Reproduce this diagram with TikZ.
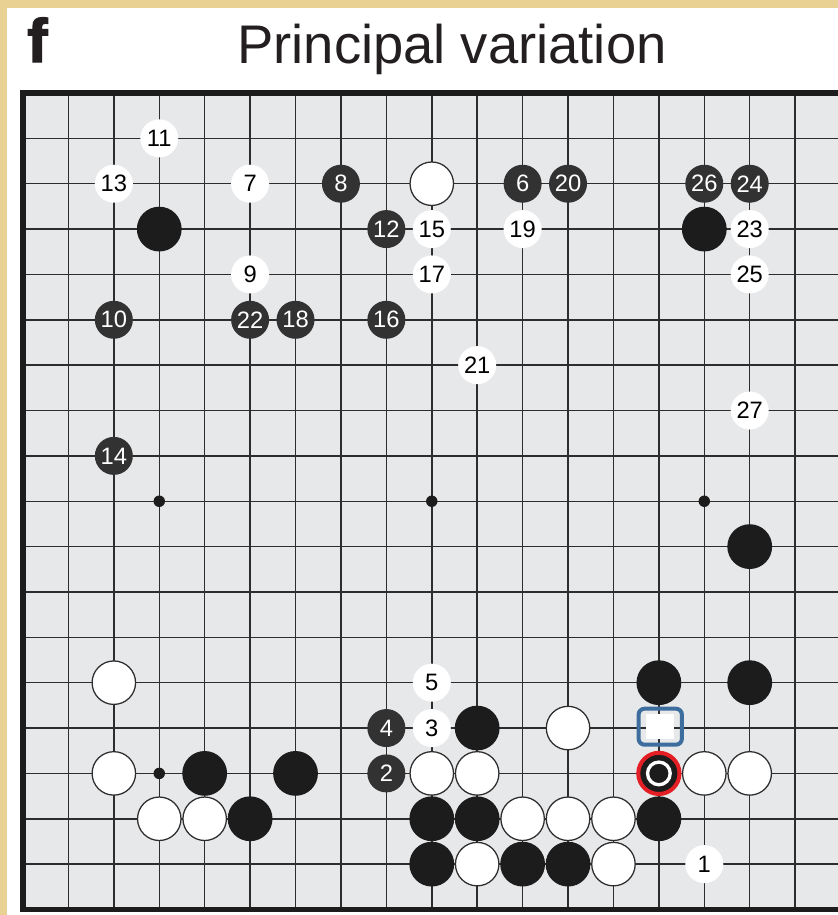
\documentclass[tikz,border=0pt]{standalone}
\usepackage{fontspec}
\setmainfont{Liberation Sans}
\newfontfamily\heavyfont{Liberation Sans Bold}[FakeBold=2.2]
\definecolor{parch}{RGB}{233,209,148}
\definecolor{boardbg}{RGB}{231,232,234}
\definecolor{gridc}{RGB}{45,45,45}
\definecolor{stoneb}{RGB}{28,28,28}
\definecolor{numb}{RGB}{50,50,50}
\definecolor{markblue}{RGB}{61,110,158}
\definecolor{markred}{RGB}{227,30,36}
\definecolor{titlec}{RGB}{35,31,32}
\tikzset{
  bstone/.style={circle, fill=stoneb, inner sep=0pt, minimum size=33.6pt},
  wstone/.style={circle, fill=white, draw=gridc, line width=0.95pt, inner sep=0pt, minimum size=32.6pt},
  bnum/.style={circle, fill=numb, text=white, inner sep=0pt, minimum size=28.5pt, font=\fontsize{17.8}{17.8}\selectfont},
  wnum/.style={circle, fill=white, text=black, inner sep=0pt, minimum size=28.5pt, font=\fontsize{17.8}{17.8}\selectfont},
  starpt/.style={circle, fill=stoneb, inner sep=0pt, minimum size=8.6pt},
  gridline/.style={draw=gridc, line width=1.1pt},
  frameline/.style={draw=stoneb, line width=3.9pt},
  lastmove/.style={circle, fill=stoneb, draw=markred, line width=3pt, inner sep=0pt, minimum size=30.9pt},
  lastring/.style={circle, draw=white, line width=2.5pt, inner sep=0pt, minimum size=17pt},
  bluebox/.style={rectangle, rounded corners=4.5pt, draw=markblue, line width=3pt, inner sep=0pt, minimum width=32.5pt, minimum height=27pt},
  whitesq/.style={rectangle, fill=white, inner sep=0pt, minimum width=21pt, minimum height=19pt}
}
\begin{document}
\begin{tikzpicture}[x=0.75pt,y=-0.75pt]
\useasboundingbox (0,0) rectangle (838,915);
\clip (0,0) rectangle (838,915);
\fill[parch] (0,0) rectangle (838,915);
\fill[white] (7,7.5) rectangle (850,925);
\node[anchor=base west, inner sep=0pt, text=titlec, font=\fontsize{46}{46}\selectfont\heavyfont] (flabel) at (27,62) {f};
\node[anchor=base, inner sep=0pt, text=titlec, font=\fontsize{40.8}{40.8}\selectfont] (title) at (452,63) {Principal variation};
\begin{scope}[shift={(23,93)}, x=34.065pt, y=-34.02pt]
  \fill[boardbg] (0,0) rectangle (18.5,18);
  \foreach \i in {1,...,17} {
    \draw[gridline] (0,\i) -- (18.5,\i);
  }
  \foreach \i in {1,...,18} {
    \draw[gridline] (\i,0) -- (\i,18);
  }
  \draw[frameline] (18.5,0) -- (0,0) -- (0,18) -- (18.5,18);
  % star points
  \node[starpt] (st1) at (3,9) {};
  \node[starpt] (st2) at (9,9) {};
  \node[starpt] (st3) at (15,9) {};
  \node[starpt] (st4) at (3,15) {};
  % black stones
  \node[bstone] (b1) at (3,3) {};
  \node[bstone] (b2) at (15,3) {};
  \node[bstone] (b3) at (16,10) {};
  \node[bstone] (b4) at (14,13) {};
  \node[bstone] (b5) at (16,13) {};
  \node[bstone] (b6) at (10,14) {};
  \node[bstone] (b7) at (4,15) {};
  \node[bstone] (b8) at (6,15) {};
  \node[bstone] (b9) at (5,16) {};
  \node[bstone] (b10) at (9,16) {};
  \node[bstone] (b11) at (10,16) {};
  \node[bstone] (b12) at (14,16) {};
  \node[bstone] (b13) at (9,17) {};
  \node[bstone] (b14) at (11,17) {};
  \node[bstone] (b15) at (12,17) {};
  % white stones
  \node[wstone] (w1) at (9,2) {};
  \node[wstone] (w2) at (2,13) {};
  \node[wstone] (w3) at (12,14) {};
  \node[wstone] (w4) at (2,15) {};
  \node[wstone] (w5) at (9,15) {};
  \node[wstone] (w6) at (10,15) {};
  \node[wstone] (w7) at (15,15) {};
  \node[wstone] (w8) at (16,15) {};
  \node[wstone] (w9) at (3,16) {};
  \node[wstone] (w10) at (4,16) {};
  \node[wstone] (w11) at (11,16) {};
  \node[wstone] (w12) at (12,16) {};
  \node[wstone] (w13) at (13,16) {};
  \node[wstone] (w14) at (10,17) {};
  \node[wstone] (w15) at (13,17) {};
  % last move and marker
  \node[lastmove] (last) at (14,15) {};
  \node[lastring] (lastmark) at (14,15) {};
  \node[bluebox] (sqmark) at (14.03,13.97) {};
  \node[whitesq] (sqfill) at (14.03,13.97) {};
  % numbered moves
  \node[wnum] (m1) at (15,17) {1};
  \node[bnum] (m2) at (8,15) {2};
  \node[wnum] (m3) at (9,14) {3};
  \node[bnum] (m4) at (8,14) {4};
  \node[wnum] (m5) at (9,13) {5};
  \node[bnum] (m6) at (11,2) {6};
  \node[wnum] (m7) at (5,2) {7};
  \node[bnum] (m8) at (7,2) {8};
  \node[wnum] (m9) at (5,4) {9};
  \node[bnum] (m10) at (2,5) {10};
  \node[wnum] (m11) at (3,1) {11};
  \node[bnum] (m12) at (8,3) {12};
  \node[wnum] (m13) at (2,2) {13};
  \node[bnum] (m14) at (2,8) {14};
  \node[wnum] (m15) at (9,3) {15};
  \node[bnum] (m16) at (8,5) {16};
  \node[wnum] (m17) at (9,4) {17};
  \node[bnum] (m18) at (6,5) {18};
  \node[wnum] (m19) at (11,3) {19};
  \node[bnum] (m20) at (12,2) {20};
  \node[wnum] (m21) at (10,6) {21};
  \node[bnum] (m22) at (5,5) {22};
  \node[wnum] (m23) at (16,3) {23};
  \node[bnum] (m24) at (16,2) {24};
  \node[wnum] (m25) at (16,4) {25};
  \node[bnum] (m26) at (15,2) {26};
  \node[wnum] (m27) at (16,7) {27};
\end{scope}
\end{tikzpicture}
\end{document}
